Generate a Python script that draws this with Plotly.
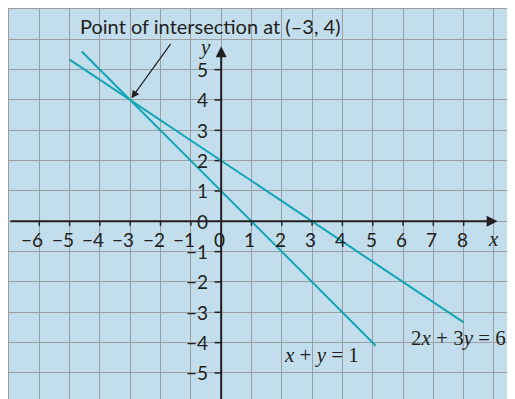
import plotly.graph_objects as go

# data
line1_x = [-4.6, 5.1]          # x + y = 1
line1_y = [1 - v for v in line1_x]
line2_x = [-5, 8]              # 2x + 3y = 6
line2_y = [(6 - 2 * v) / 3 for v in line2_x]
x_ticks = [-6, -5, -4, -3, -2, -1, 1, 2, 3, 4, 5, 6, 7, 8]
y_ticks = [-5, -4, -3, -2, -1, 1, 2, 3, 4, 5]
x_labels = ['−6', '−5', '−4', '−3', '−2', '−1', '0', '1', '2', '3', '4', '5', '6', '7', '8']
x_label_pos = [-6, -5, -4, -3, -2, -1, 0, 1, 2, 3, 4, 5, 6, 7, 8]
y_labels = ['−5', '−4', '−3', '−2', '−1', '0', '1', '2', '3', '4', '5']
y_label_pos = [-5, -4, -3, -2, -1, 0, 1, 2, 3, 4, 5]
meet = (-3, 4)

bg = 'rgb(194,221,236)'
teal = 'rgb(20,165,181)'
ink = '#231f20'
grid = 'rgb(155,158,162)'
sans = 'Lato'
serif = 'Liberation Serif'

fig = go.Figure()

# tick marks on the axes
tx, ty = [], []
for v in x_ticks:
    tx += [v, v, None]
    ty += [0, -0.15, None]
for v in y_ticks:
    tx += [0, -0.22, None]
    ty += [v, v, None]
fig.add_trace(go.Scatter(x=tx, y=ty, mode='lines', line=dict(color=ink, width=1.5),
                         hoverinfo='skip', showlegend=False))

# the two lines
fig.add_trace(go.Scatter(x=line1_x, y=line1_y, mode='lines', line=dict(color=teal, width=2),
                         showlegend=False))
fig.add_trace(go.Scatter(x=line2_x, y=line2_y, mode='lines', line=dict(color=teal, width=2),
                         showlegend=False))

ann = []
# axes drawn as arrows
ann.append(dict(x=9.12, y=0, ax=-7, ay=0, xref='x', yref='y', axref='x', ayref='y',
                showarrow=True, arrowhead=2, arrowsize=1.1, arrowwidth=2, arrowcolor=ink, text=''))
ann.append(dict(x=0, y=5.77, ax=0, ay=-6.2, xref='x', yref='y', axref='x', ayref='y',
                showarrow=True, arrowhead=2, arrowsize=1.1, arrowwidth=2, arrowcolor=ink, text=''))

for lab, v in zip(x_labels, x_label_pos):
    ann.append(dict(x=v, y=0, text=lab, showarrow=False, xanchor='right', yanchor='middle',
                    xshift=6, yshift=-18, font=dict(family=sans, size=19, color=ink)))
for lab, v in zip(y_labels, y_label_pos):
    ann.append(dict(x=0, y=v, text=lab, showarrow=False, xanchor='right', yanchor='middle',
                    xshift=-11, font=dict(family=sans, size=19, color=ink)))

ann.append(dict(x=9.0, y=0, text='<i>x</i>', showarrow=False, xanchor='center', yanchor='middle',
                yshift=-18, font=dict(family=serif, size=21, color=ink)))
ann.append(dict(x=0, y=5.75, text='<i>y</i>', showarrow=False, xanchor='center', yanchor='middle',
                xshift=-16, font=dict(family=serif, size=21, color=ink)))

ann.append(dict(x=3.31, y=-4.4, text='<i>x</i> + <i>y</i> = 1', showarrow=False,
                font=dict(family=serif, size=21, color=ink)))
ann.append(dict(x=7.84, y=-3.86, text='2<i>x</i> + 3<i>y</i> = 6', showarrow=False,
                font=dict(family=serif, size=21, color=ink)))

ann.append(dict(x=-4.72, y=6.45, text='Point of intersection at (–3, 4)', showarrow=False,
                xanchor='left', yanchor='middle', font=dict(family=sans, size=20, color=ink)))
ann.append(dict(x=meet[0], y=meet[1], ax=-1.63, ay=5.9, xref='x', yref='y', axref='x', ayref='y',
                showarrow=True, arrowhead=2, arrowsize=1.3, arrowwidth=1.2, arrowcolor=ink,
                standoff=2, text=''))

# page body adds 8 px, so the plot area starts 1 px in from the figure edge
fig.update_layout(
    width=515, height=399,
    margin=dict(l=1, r=0, t=1, b=0),
    paper_bgcolor=bg, plot_bgcolor=bg,
    annotations=ann,
    xaxis=dict(range=[-7, 9.958], dtick=1, tick0=0, showgrid=True, gridcolor=grid, gridwidth=1.2,
               zeroline=False, showticklabels=False, ticks='', showline=True, side='top',
               linecolor=grid, linewidth=1.2),
    yaxis=dict(range=[-6.122, 7], dtick=1, tick0=0, showgrid=True, gridcolor=grid, gridwidth=1.2,
               zeroline=False, showticklabels=False, ticks='', showline=True,
               linecolor=grid, linewidth=1.2),
)

fig.write_html("out.html")
